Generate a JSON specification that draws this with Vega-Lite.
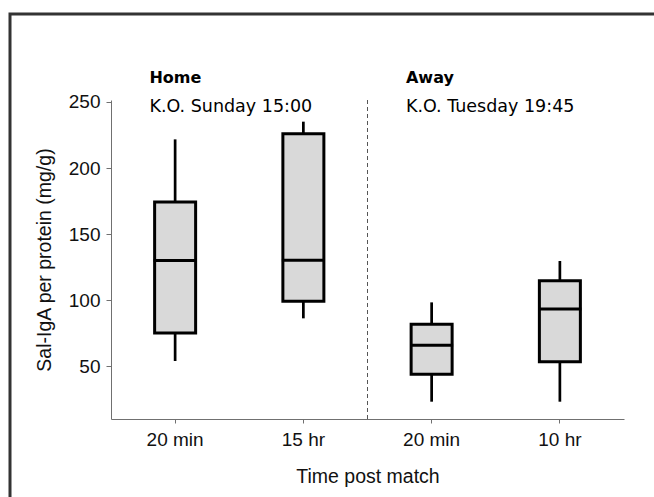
{
  "$schema": "https://vega.github.io/schema/vega-lite/v6.json",
  "autosize": {"type": "none"},
  "width": 648,
  "height": 487,
  "padding": {"left": 10, "top": 14, "right": -4, "bottom": -4},
  "background": "white",
  "config": {
    "view": {"stroke": "#333333", "strokeWidth": 3},
    "axis": {
      "labelFont": "Liberation Sans",
      "labelFontSize": 19,
      "labelColor": "#111111",
      "titleFont": "Liberation Sans",
      "titleFontSize": 19.5,
      "titleFontWeight": "normal",
      "titleColor": "#111111",
      "domainColor": "#707070",
      "tickColor": "#707070",
      "grid": false
    }
  },
  "datasets": {
    "boxes": [
      {"cat": "Home|20 min", "lower": 53.9, "q1": 75.1, "median": 129.9, "q3": 174.3, "upper": 221.7},
      {"cat": "Home|15 hr", "lower": 86.2, "q1": 99.1, "median": 130.1, "q3": 226.0, "upper": 235.1},
      {"cat": "Away|20 min", "lower": 23.1, "q1": 43.8, "median": 65.8, "q3": 81.7, "upper": 98.3},
      {"cat": "Away|10 hr", "lower": 23.1, "q1": 53.4, "median": 93.3, "q3": 114.7, "upper": 129.6}
    ],
    "groups": [
      {"cat": "Home|20 min", "head": "Home", "ko": "K.O. Sunday 15:00"},
      {"cat": "Away|20 min", "head": "Away", "ko": "K.O. Tuesday 19:45"}
    ]
  },
  "encoding": {
    "x": {
      "field": "cat",
      "type": "nominal",
      "sort": null,
      "scale": {
        "type": "band",
        "domain": ["Home|20 min", "Home|15 hr", "Away|20 min", "Away|10 hr"],
        "range": [101, 614],
        "paddingInner": 0,
        "paddingOuter": 0
      },
      "axis": {
        "title": "Time post match",
        "orient": "bottom",
        "offset": -82,
        "labelAngle": 0,
        "labelExpr": "split(datum.value, '|')[1]",
        "tickSize": 4,
        "labelPadding": 7,
        "titlePadding": 18
      }
    }
  },
  "layer": [
    {
      "data": {"name": "boxes"},
      "mark": {"type": "rule", "color": "black", "strokeWidth": 2.7},
      "encoding": {
        "y": {
          "field": "lower",
          "type": "quantitative",
          "title": "Sal-IgA per protein (mg/g)",
          "scale": {"domain": [10, 251.5], "range": [405, 86], "nice": false, "zero": false},
          "axis": {
            "orient": "left",
            "offset": -101,
            "values": [50, 100, 150, 200, 250],
            "tickSize": 5,
            "labelPadding": 6,
            "titlePadding": 14
          }
        },
        "y2": {"field": "upper"}
      }
    },
    {
      "data": {"name": "boxes"},
      "mark": {"type": "bar", "size": 41, "fill": "#d9d9d9", "stroke": "black", "strokeWidth": 3},
      "encoding": {
        "y": {"field": "q1", "type": "quantitative", "title": "Sal-IgA per protein (mg/g)"},
        "y2": {"field": "q3"}
      }
    },
    {
      "data": {"name": "boxes"},
      "mark": {"type": "tick", "size": 43, "thickness": 3, "color": "black", "opacity": 1},
      "encoding": {
        "y": {"field": "median", "type": "quantitative", "title": "Sal-IgA per protein (mg/g)"}
      }
    },
    {
      "data": {"values": [{}]},
      "mark": {"type": "rule", "color": "#555555", "strokeWidth": 1, "strokeDash": [4, 3]},
      "encoding": {
        "x": {"datum": "Home|15 hr", "type": "nominal", "bandPosition": 1},
        "y": {"datum": 10, "type": "quantitative", "title": "Sal-IgA per protein (mg/g)"},
        "y2": {"datum": 251.5}
      }
    },
    {
      "data": {"name": "groups"},
      "mark": {"type": "text", "font": "DejaVu Sans", "fontWeight": "bold", "fontSize": 16, "align": "left", "baseline": "alphabetic", "color": "black"},
      "encoding": {
        "x": {"field": "cat", "type": "nominal", "bandPosition": 0.3},
        "y": {"datum": 264, "type": "quantitative", "title": "Sal-IgA per protein (mg/g)"},
        "text": {"field": "head"}
      }
    },
    {
      "data": {"name": "groups"},
      "mark": {"type": "text", "font": "DejaVu Sans", "fontSize": 17.5, "align": "left", "baseline": "alphabetic", "color": "black"},
      "encoding": {
        "x": {"field": "cat", "type": "nominal", "bandPosition": 0.3},
        "y": {"datum": 242.4, "type": "quantitative", "title": "Sal-IgA per protein (mg/g)"},
        "text": {"field": "ko"}
      }
    }
  ]
}
